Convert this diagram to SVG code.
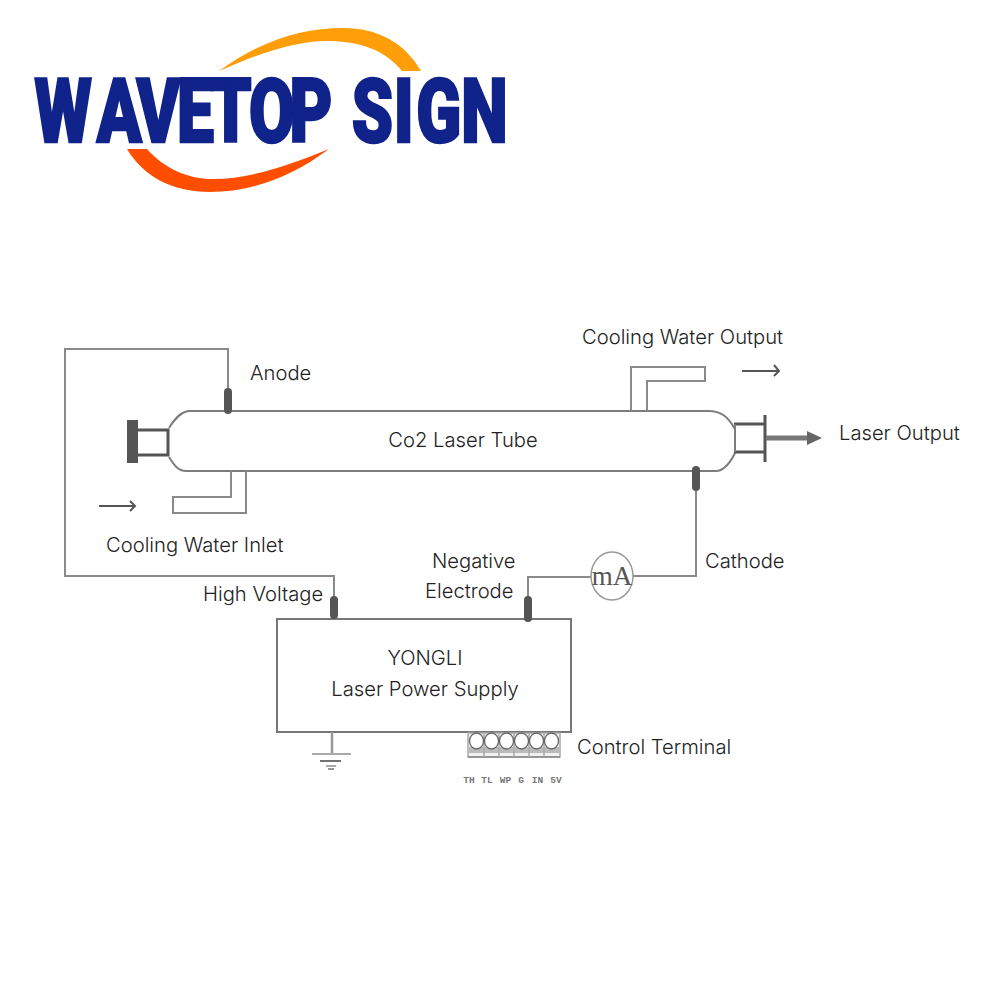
<svg xmlns="http://www.w3.org/2000/svg" width="1000" height="1000" viewBox="0 0 1000 1000">
<style>
.l{font-family:"Inter","Liberation Sans",sans-serif;font-size:20.200px;font-weight:300;fill:#222}
.w{fill:none;stroke:#8a8a8a;stroke-width:2}
.t{fill:none;stroke:#7c7c7c;stroke-width:2}
.d{fill:none;stroke:#555;stroke-width:3}
.p{fill:none;stroke:#555;stroke-width:8;stroke-linecap:round}
.c{font-family:"Liberation Mono",monospace;font-size:9.500px;font-weight:bold;fill:#777}
</style>
<rect width="1000" height="1000" fill="#fff"/>
<g id="logo">
<path d="M219 71C262 40 303 28 343 28C378 28 405 43 421 71H402C385 50 360 41 327 41C295 41 260 53 219 71Z" fill="#ff9e08"/>
<path d="M127 149H147C165 169 188 179 213 179C250 179 290 165 329 149C290 178 250 192 210 192C172 192 143 176 127 149Z" fill="#ff4e00"/>
<text transform="scale(0.75 1)" y="142" x="46 129 182 236 280 332 386 440 469 525 555 615" font-family="Roboto,Liberation Sans,sans-serif" font-weight="900" font-size="88" fill="#10238a" stroke="#10238a" stroke-width="2.500">WAVETOP SIGN</text>
</g>
<g id="connectors">
<path class="w" d="M228 404V349H65V576H334V600"/>
<path class="w" d="M528 600V577H592M633 576H696V484"/>
</g>
<g id="laser-tube">
<path class="t" d="M190 411H708C722 411 728 417 735 429M735 453C729 465 722 471 716 471H186C178 471 174 465 169 457M169 428C176 417 182 411 190 411"/>
<path class="w" d="M631 411V367H705V381H647V411"/>
<path class="w" d="M231 471V497H173V513H246V471"/>
<path class="d" d="M137 430H168V455H137"/>
<rect x="127" y="420" width="11" height="43" fill="#555"/>
<path class="d" d="M734 424H765M734 452H765"/>
<path class="t" d="M735 424V452"/>
<path d="M765 415V462" stroke="#555" stroke-width="3" fill="none"/>
<path d="M766 438H810" stroke="#777" stroke-width="5" fill="none"/>
<path d="M807 431L822 438L807 445Z" fill="#666"/>
<path class="p" d="M228 392V410"/>
<path class="p" d="M696 470V487"/>
<text class="l" x="463" y="447" text-anchor="middle">Co2 Laser Tube</text>
</g>
<g id="water-arrows">
<path d="M99 506H135M130 501L135 506L130 511" fill="none" stroke="#555" stroke-width="2"/>
<path d="M742 371H779M774 365L779 371L774 376" fill="none" stroke="#555" stroke-width="2"/>
</g>
<g id="ammeter">
<ellipse cx="612" cy="576" rx="21" ry="24" fill="#fff" stroke="#999" stroke-width="1.500"/>
<text x="612" y="585" text-anchor="middle" font-family="Liberation Serif,serif" font-size="27" fill="#555">mA</text>
</g>
<g id="power-supply">
<rect x="277" y="619" width="294" height="113" fill="#fff" stroke="#777" stroke-width="2"/>
<path class="p" d="M334 600V615"/>
<path class="p" d="M528 600V618"/>
<text class="l" x="425" y="665" text-anchor="middle">YONGLI</text>
<text class="l" x="425" y="696" text-anchor="middle">Laser Power Supply</text>
</g>
<g id="ground">
<path d="M332 732V754" stroke="#999" stroke-width="2.500" fill="none"/>
<path d="M312 754H351" stroke="#aaa" stroke-width="2" fill="none"/>
<path d="M320 761H341" stroke="#444" stroke-width="1.500" fill="none"/>
<path d="M326 766H336" stroke="#aaa" stroke-width="2" fill="none"/>
<path d="M328 769H334" stroke="#777" stroke-width="1.500" fill="none"/>
</g>
<g id="terminal">
<path d="M468 733H560V757H468Z" fill="#f1f1f1" stroke="#aaa" stroke-width="1.500"/>
<path d="M468 750H560" stroke="#bbb" stroke-width="6" fill="none"/>
<path d="M468 757H560" stroke="#888" stroke-width="1.500" fill="none"/>
<path d="M484 733V757M499 733V757M514 733V757M529 733V757M544 733V757" stroke="#aaa" stroke-width="1.500" fill="none"/>
<g fill="#fff" stroke="#666" stroke-width="1.300">
<ellipse cx="476.500" cy="741" rx="7" ry="8"/><ellipse cx="491.500" cy="741" rx="7" ry="8"/><ellipse cx="506.500" cy="741" rx="7" ry="8"/><ellipse cx="521.500" cy="741" rx="7" ry="8"/><ellipse cx="536.500" cy="741" rx="7" ry="8"/><ellipse cx="551.500" cy="741" rx="7" ry="8"/>
</g>
<text class="c" x="469" y="783" text-anchor="middle">TH</text>
<text class="c" x="487" y="783" text-anchor="middle">TL</text>
<text class="c" x="505.500" y="783" text-anchor="middle">WP</text>
<text class="c" x="521" y="783" text-anchor="middle">G</text>
<text class="c" x="537.500" y="783" text-anchor="middle">IN</text>
<text class="c" x="556" y="783" text-anchor="middle">5V</text>
</g>
<g id="labels">
<text class="l" x="250" y="380">Anode</text>
<text class="l" x="582" y="344">Cooling Water Output</text>
<text class="l" x="839" y="440">Laser Output</text>
<text class="l" x="106" y="552">Cooling Water Inlet</text>
<text class="l" x="705" y="568">Cathode</text>
<text class="l" x="432" y="568">Negative</text>
<text class="l" x="425" y="598">Electrode</text>
<text class="l" x="203" y="601">High Voltage</text>
<text class="l" x="577" y="754">Control Terminal</text>
</g>
</svg>
